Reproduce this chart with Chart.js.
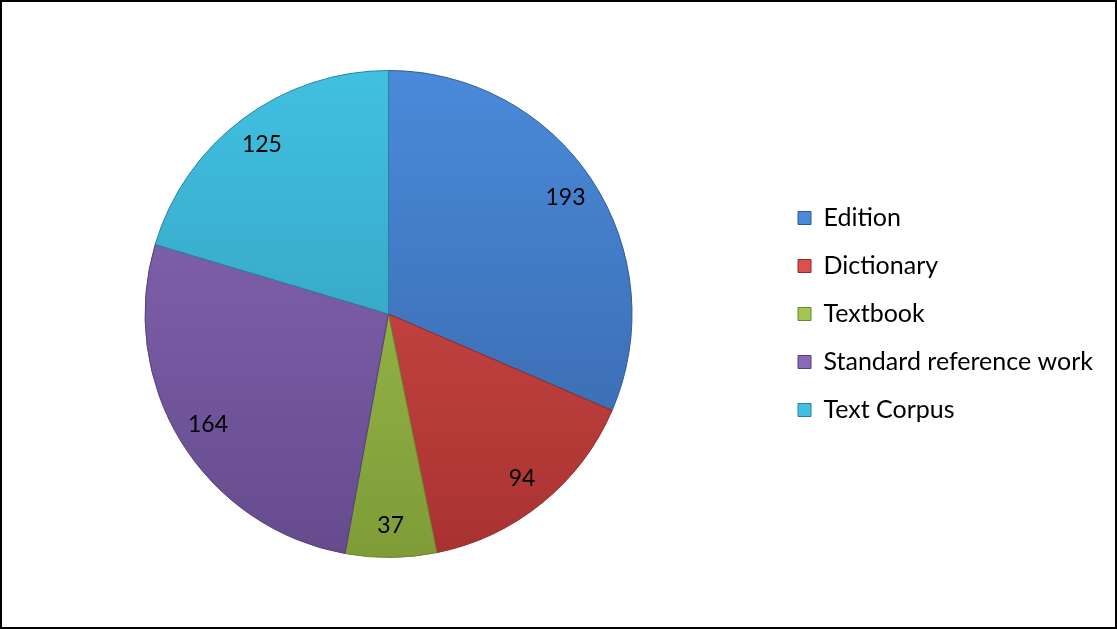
<!DOCTYPE html>
<html>
<head>
<meta charset="utf-8">
<script src="https://cdn.jsdelivr.net/npm/chart.js@4.4.0/dist/chart.umd.min.js"></script>
<style>
  html, body { margin: 0; padding: 0; background: #fff; }
  #frame {
    width: 1117px; height: 629px; box-sizing: border-box;
    border: 2px solid #000; background: #fff; position: relative;
  }
  #frame canvas { display: block; }
</style>
</head>
<body>
<div id="frame"><canvas id="sourceChart"></canvas></div>
<script>
// Source types and counts
var categories = ['Edition', 'Dictionary', 'Textbook', 'Standard reference work', 'Text Corpus'];
var counts = [193, 94, 37, 164, 125];

// Light (top) and dark (bottom) shade for each slice
var lightColors = ['#4a8ada', '#d9504d', '#a2c64f', '#8a69b8', '#41c0e0'];
var darkColors = ['#3664a6', '#a83230', '#7f9c38', '#654b8d', '#2f95b3'];
var edgeColors = ['#2f5a94', '#8f2a28', '#6c8530', '#55407a', '#29829c'];

function sliceFill(context) {
  var chart = context.chart;
  var area = chart.chartArea;
  if (!area) return lightColors[context.dataIndex];
  var g = chart.ctx.createLinearGradient(0, area.top, 0, area.bottom);
  g.addColorStop(0, lightColors[context.dataIndex]);
  g.addColorStop(1, darkColors[context.dataIndex]);
  return g;
}

// Writes each value inside its slice, along the middle angle
var valueLabels = {
  id: 'valueLabels',
  afterDatasetsDraw: function(chart) {
    var ctx = chart.ctx;
    var meta = chart.getDatasetMeta(0);
    ctx.save();
    ctx.font = '23px Lato, "Open Sans", sans-serif';
    ctx.fillStyle = '#000';
    ctx.textAlign = 'center';
    ctx.textBaseline = 'middle';
    meta.data.forEach(function(arc, i) {
      var p = arc.getProps(['x', 'y', 'startAngle', 'endAngle', 'outerRadius']);
      var mid = (p.startAngle + p.endAngle) / 2;
      var r = p.outerRadius * 0.87;
      ctx.fillText(String(counts[i]), p.x + Math.cos(mid) * r, p.y + Math.sin(mid) * r);
    });
    ctx.restore();
  }
};

var ctx = document.getElementById('sourceChart').getContext('2d');
new Chart(ctx, {
  type: 'pie',
  data: {
    labels: categories,
    datasets: [{
      data: counts,
      backgroundColor: sliceFill,
      borderColor: edgeColors,
      borderWidth: 1
    }]
  },
  options: {
    responsive: true,
    maintainAspectRatio: false,
    animation: false,
    layout: { padding: { top: 68, bottom: 69, left: 0, right: 12 } },
    plugins: {
      legend: {
        display: true,
        position: 'right',
        align: 'center',
        labels: {
          color: '#000',
          font: { family: 'Lato, "Open Sans", sans-serif', size: 25 },
          boxWidth: 13,
          boxHeight: 13,
          padding: 23,
          generateLabels: function(chart) {
            return categories.map(function(name, i) {
              return {
                text: name,
                fillStyle: lightColors[i],
                strokeStyle: edgeColors[i],
                lineWidth: 1,
                index: i
              };
            });
          }
        }
      },
      tooltip: { enabled: false }
    }
  },
  plugins: [valueLabels]
});
</script>
</body>
</html>
